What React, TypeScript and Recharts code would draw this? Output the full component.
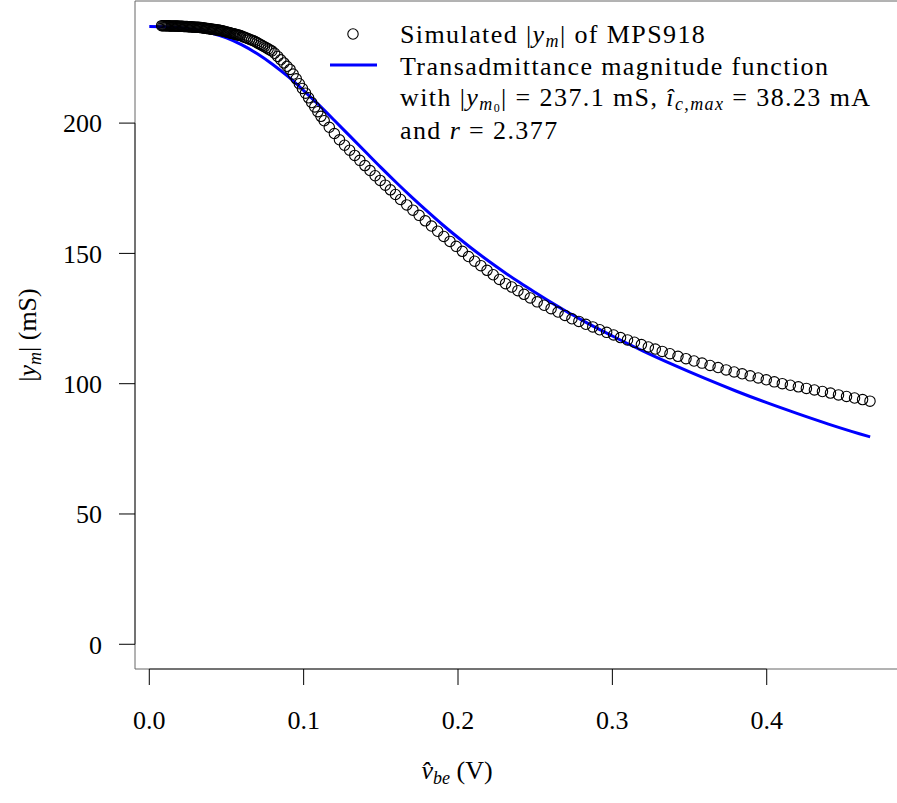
import React from 'react';
import { ComposedChart, XAxis, YAxis, Scatter, Line, ReferenceLine } from 'recharts';

// simulated |y_m| of MPS918 (circles)
const simVbe = [
  0.00800, 0.00875, 0.00950, 0.01025, 0.01100, 0.01175, 0.01250, 0.01325, 0.01400, 0.01475, 0.01550, 0.01625,
  0.01700, 0.01775, 0.01850, 0.01925, 0.02000,
  0.02075, 0.02150, 0.02225, 0.02300, 0.02375, 0.02450, 0.02525, 0.02600, 0.02675, 0.02750, 0.02825, 0.02900,
  0.02975, 0.03050, 0.03125, 0.03200, 0.03275,
  0.03350, 0.03425, 0.03500, 0.03575, 0.03650, 0.03725, 0.03800, 0.03875, 0.03950, 0.04025, 0.04100, 0.04175,
  0.04250, 0.04325, 0.04400, 0.04475, 0.04550,
  0.04625, 0.04700, 0.04775, 0.04850, 0.04925, 0.05000, 0.05075, 0.05150, 0.05225, 0.05300, 0.05375, 0.05450,
  0.05525, 0.05600, 0.05675, 0.05750, 0.05825, 0.05900,
  0.0602, 0.0614, 0.0626, 0.0638, 0.0650, 0.0662, 0.0674, 0.0686, 0.0698, 0.0710, 0.0722, 0.0734,
  0.0746, 0.0758, 0.0770, 0.0782, 0.0794,
  0.0812, 0.0832, 0.0852, 0.0872, 0.0892, 0.0912, 0.0932, 0.0952, 0.0972, 0.0992, 0.1012, 0.1032,
  0.1052, 0.1072, 0.1092, 0.1112,
  0.1133, 0.1166, 0.1199, 0.1232, 0.1265, 0.1298, 0.1331, 0.1364, 0.1397, 0.1430, 0.1463, 0.1496,
  0.1529, 0.1562, 0.1595, 0.1628,
  0.1668, 0.1708, 0.1748, 0.1788, 0.1828, 0.1868, 0.1908, 0.1948, 0.1988, 0.2028, 0.2068, 0.2108,
  0.2148, 0.2188, 0.2228, 0.2268, 0.2308, 0.2348, 0.2388, 0.2428, 0.2468,
  0.2513, 0.2558, 0.2603, 0.2648, 0.2693, 0.2738, 0.2783, 0.2828, 0.2873, 0.2918, 0.2963, 0.3008,
  0.3053, 0.3098, 0.3143, 0.3188, 0.3233, 0.3278, 0.3323,
  0.3373, 0.3425, 0.3477, 0.3529, 0.3581, 0.3633, 0.3685, 0.3737, 0.3789, 0.3841, 0.3893, 0.3945,
  0.3997, 0.4049, 0.4101, 0.4153, 0.4205, 0.4257, 0.4309, 0.4361, 0.4413, 0.4465, 0.4517, 0.4569,
  0.4621, 0.4669,
];
const simYm = [
  237.40, 237.38, 237.37, 237.36, 237.35, 237.33, 237.32, 237.31, 237.30, 237.29, 237.27, 237.26,
  237.25, 237.24, 237.22, 237.21, 237.20,
  237.17, 237.14, 237.11, 237.08, 237.05, 237.03, 237.00, 236.97, 236.94, 236.91, 236.88, 236.85,
  236.83, 236.80, 236.77, 236.74, 236.71,
  236.66, 236.60, 236.54, 236.47, 236.41, 236.35, 236.28, 236.22, 236.16, 236.09, 236.03, 235.96,
  235.90, 235.84, 235.77, 235.71, 235.64,
  235.56, 235.45, 235.33, 235.22, 235.10, 234.98, 234.87, 234.75, 234.64, 234.52, 234.41, 234.29,
  234.18, 234.06, 233.95, 233.83, 233.71, 233.60,
  233.31, 233.02, 232.74, 232.45, 232.16, 231.88, 231.59, 231.30, 230.90, 230.50, 230.10, 229.70,
  229.30, 228.90, 228.50, 228.10, 227.70,
  226.8, 225.6, 224.3, 223.1, 221.8, 220.6, 218.8, 217.0, 215.1, 213.3, 211.5, 209.7,
  207.9, 206.2, 204.4, 202.6,
  200.9, 198.4, 196.0, 193.6, 191.5, 189.6, 187.6, 185.7, 183.7, 181.8, 179.8, 178.0,
  176.2, 174.4, 172.6, 170.7,
  168.6, 166.6, 164.6, 162.5, 160.5, 158.5, 156.5, 154.6, 152.7, 150.8, 148.8, 147.0,
  145.3, 143.5, 141.8, 140.0, 138.4, 137.1, 135.7, 134.3, 132.9,
  131.4, 130.1, 128.8, 127.5, 126.2, 124.9, 123.9, 122.8, 121.8, 120.7, 119.7, 118.7,
  117.7, 116.8, 115.9, 115.0, 114.1, 113.3, 112.4,
  111.5, 110.5, 109.6, 108.7, 107.9, 107.0, 106.2, 105.3, 104.5, 103.8, 103.0, 102.2,
  101.5, 100.7, 100.0, 99.4, 98.8, 98.2, 97.6, 97.0, 96.4, 95.7, 95.1, 94.5,
  93.9, 93.3,
];

// transadmittance magnitude function (blue line)
const fitVbe = [
  0, 0.01, 0.02, 0.03, 0.04, 0.05, 0.06, 0.07, 0.08, 0.09, 0.1, 0.11, 0.12, 0.13, 0.14, 0.15,
  0.16, 0.17, 0.18, 0.19, 0.2, 0.21, 0.22, 0.23, 0.24, 0.25, 0.26, 0.27, 0.28, 0.29, 0.3,
  0.32, 0.34, 0.36, 0.38, 0.4, 0.42, 0.44, 0.46, 0.467,
];
const fitYm = [
  237.1, 237.0, 236.6, 235.8, 234.6, 232.7, 230.0, 226.6, 222.5, 217.8, 212.5, 206.9, 201.0, 195.0, 189.0, 183.0,
  177.2, 171.6, 166.2, 161.0, 156.1, 151.4, 147.0, 142.8, 138.8, 135.0, 131.3, 127.8, 124.5, 121.3, 118.3,
  112.5, 107.1, 102.0, 97.2, 92.7, 88.5, 84.5, 80.8, 79.6,
];

const xTicks = [0, 0.1, 0.2, 0.3, 0.4];
const yTicks = [0, 50, 100, 150, 200];

const simData = simVbe.map((x, i) => ({ x, y: simYm[i] }));
const fitData = fitVbe.map((x, i) => ({ x, y: fitYm[i] }));

const FONT = '"Liberation Serif", serif';
const X_DOMAIN = [-0.00926, 0.4844];
const Y_DOMAIN = [-9.49, 246.86];

const txt = { fontFamily: FONT, fontSize: 26, fill: '#000' };
const leg = { fontFamily: FONT, fontSize: 26, fill: '#000', letterSpacing: '1.4px' };

const OpenCircle = (props: any) => {
  const { cx, cy } = props;
  if (cx == null || cy == null) return null;
  return <circle cx={cx} cy={cy} r={5.2} fill="none" stroke="#000" strokeWidth={1.1} />;
};

export default function App() {
  return (
    <div style={{ position: 'absolute', left: 0, top: 0, width: 897, height: 803, background: '#fff' }}>
      <ComposedChart width={897} height={803} margin={{ top: 1, right: 0, left: 0, bottom: 0 }}>
        <XAxis
          type="number"
          dataKey="x"
          domain={X_DOMAIN}
          allowDataOverflow
          ticks={xTicks}
          tickFormatter={(v: number) => v.toFixed(1)}
          height={134}
          tickSize={16}
          tickMargin={26}
          axisLine={{ stroke: '#666', strokeWidth: 1 }}
          tickLine={{ stroke: '#000', strokeWidth: 1 }}
          tick={txt}
        />
        <YAxis
          type="number"
          dataKey="y"
          domain={Y_DOMAIN}
          allowDataOverflow
          ticks={yTicks}
          width={135}
          tickSize={16}
          tickMargin={17}
          axisLine={{ stroke: '#666', strokeWidth: 1 }}
          tickLine={{ stroke: '#000', strokeWidth: 1 }}
          tick={txt}
        />
        {/* box top and the darker axis spans between first and last tick */}
        <ReferenceLine y={Y_DOMAIN[1]} stroke="#666" ifOverflow="visible" />
        <ReferenceLine
          segment={[{ x: 0, y: Y_DOMAIN[0] }, { x: 0.4, y: Y_DOMAIN[0] }]}
          stroke="#000"
          ifOverflow="visible"
        />
        <ReferenceLine
          segment={[{ x: X_DOMAIN[0], y: 0 }, { x: X_DOMAIN[0], y: 200 }]}
          stroke="#000"
          ifOverflow="visible"
        />
        <Scatter data={simData} dataKey="y" shape={OpenCircle} isAnimationActive={false} />
        <Line
          data={fitData}
          dataKey="y"
          type="monotone"
          stroke="#0000ff"
          strokeWidth={3}
          dot={false}
          activeDot={false}
          isAnimationActive={false}
        />

        {/* legend */}
        <circle cx={353} cy={34} r={5.2} fill="none" stroke="#000" strokeWidth={1.1} />
        <line x1={330} y1={65} x2={377} y2={65} stroke="#0000ff" strokeWidth={3} />
        <text x={400} y={43} style={leg}>
          Simulated |<tspan fontStyle="italic">y</tspan>
          <tspan fontStyle="italic" fontSize={18} dy={4}>m</tspan>
          <tspan dy={-4}>| of MPS918</tspan>
        </text>
        <text x={400} y={75} style={leg}>Transadmittance magnitude function</text>
        <text x={400} y={106} style={leg}>
          with |<tspan fontStyle="italic">y</tspan>
          <tspan fontStyle="italic" fontSize={18} dy={4}>m</tspan>
          <tspan fontSize={12} dy={2}>0</tspan>
          <tspan dy={-6}>| = 237.1 mS, </tspan>
          <tspan fontStyle="italic">î</tspan>
          <tspan fontStyle="italic" fontSize={18} dy={4}>c,max</tspan>
          <tspan dy={-4}> = 38.23 mA</tspan>
        </text>
        <text x={400} y={139} style={leg}>
          and <tspan fontStyle="italic">r</tspan> = 2.377
        </text>

        {/* axis titles */}
        <text x={457} y={779} textAnchor="middle" style={txt}>
          <tspan fontStyle="italic">{'v\u0302'}</tspan>
          <tspan fontStyle="italic" fontSize={18} dy={5}>be</tspan>
          <tspan dy={-5}> (V)</tspan>
        </text>
        <text x={36} y={335} transform="rotate(-90, 36, 335)" textAnchor="middle" style={txt}>
          |<tspan fontStyle="italic">y</tspan>
          <tspan fontStyle="italic" fontSize={18} dy={5}>m</tspan>
          <tspan dy={-5}>| (mS)</tspan>
        </text>
      </ComposedChart>
    </div>
  );
}
